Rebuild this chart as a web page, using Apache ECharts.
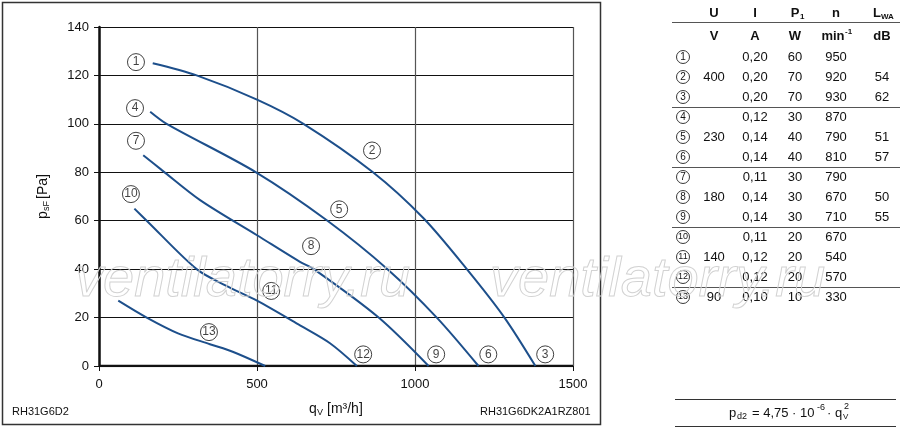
<!DOCTYPE html>
<html>
<head>
<meta charset="utf-8">
<script src="https://cdn.jsdelivr.net/npm/echarts@6/dist/echarts.min.js"></script>
<style>html,body{margin:0;padding:0;background:#fff}#c{width:900px;height:428px}</style>
</head>
<body>
<div id="c"></div>
<script>
// ---- data ----
const curve1to3 = [[170,125],[309,120],[500,110],[647,100],[867,80],[1027,61],[1164,40],[1283,20],[1381,0]];
const curve4to6 = [[162,105],[214,100],[497,80],[723,60],[913,40],[1069,20],[1201,0]];
const curve7to9 = [[140,87],[198,81],[320,68.5],[500,54],[636,43],[680,40],[885,20],[1043,0]];
const curve10to12 = [[112,65],[151,60],[309,40],[400,33.3],[500,27],[636,16.8],[731,9.4],[816,0]];
const curve13 = [[61,27],[151,20],[250,13.5],[351,9],[425,5.8],[526,0]];
const curveLabels = [
  ['1',117,125.5],['2',864,89],['3',1412,4.8],
  ['4',114,106.5],['5',760,64.7],['6',1232,4.8],
  ['7',117,93],['8',671,49.5],['9',1067,4.8],
  ['10',101,71],['11',545,31],['12',836,4.8],['13',348,14]
];
const xTicks = [0,500,1000,1500];
const yTicks = [0,20,40,60,80,100,120,140];

// table
const tableHead1 = ['U','I','P','n','L'];
const tableHead2 = ['V','A','W','min','dB'];
const rowNo = ['1','2','3','4','5','6','7','8','9','10','11','12','13'];
const colU = ['','400','','','230','','','180','','','140','','90'];
const colI = ['0,20','0,20','0,20','0,12','0,14','0,14','0,11','0,14','0,14','0,11','0,12','0,12','0,10'];
const colP = ['60','70','70','30','40','40','30','30','30','20','20','20','10'];
const colN = ['950','920','930','870','790','810','790','670','710','670','540','570','330'];
const colL = ['','54','62','','51','57','','50','55','','','',''];

const chart = echarts.init(document.getElementById('c'), null, {renderer:'canvas'});
const FONT = 'Liberation Sans, Arial, Helvetica, sans-serif';
const lineColor = '#1d4f8b';

const curves = [curve1to3, curve4to6, curve7to9, curve10to12, curve13];
const series = curves.map(d => ({
  type:'line', data:d, smooth:0.3, showSymbol:false, silent:true,
  lineStyle:{color:lineColor, width:2}, z:3
}));
series.push({
  type:'scatter', data: curveLabels.map(l => ({name:l[0], value:[l[1], l[2]]})),
  symbol:'circle', symbolSize:17, silent:true, z:5,
  itemStyle:{color:'#fff', borderColor:'#111', borderWidth:1},
  label:{show:true, position:'inside', formatter:p=>p.name, color:'#111', fontFamily:FONT,
    fontSize:12, letterSpacing:-1}
});

// graphic elements
const g = [];
g.push({type:'rect', shape:{x:2.5,y:2.5,width:598,height:422}, style:{fill:'none', stroke:'#333', lineWidth:1.5}, z:0});
// watermark
[75, 490].forEach(x => g.push({type:'text', x:x, y:280, silent:true, z:10,
  style:{text:'ventilatorry.ru', font:'italic 56px '+FONT, fill:'rgba(255,255,255,0)', stroke:'#d2d2d2', lineWidth:1, textVerticalAlign:'middle'}}));
// y axis name (rotated)
g.push({type:'group', x:43, y:195, rotation:Math.PI/2, children:[
  {type:'text', x:-24, y:0, style:{text:'p', font:'14px '+FONT, fill:'#111', textVerticalAlign:'middle'}},
  {type:'text', x:-16, y:4, style:{text:'sF', font:'9px '+FONT, fill:'#111', textVerticalAlign:'middle'}},
  {type:'text', x:-4, y:0, style:{text:'[Pa]', font:'14px '+FONT, fill:'#111', textVerticalAlign:'middle'}}
]});
// x axis name
g.push({type:'text', x:309, y:409, style:{text:'q', font:'14px '+FONT, fill:'#111', textVerticalAlign:'middle'}});
g.push({type:'text', x:317, y:413, style:{text:'V', font:'9px '+FONT, fill:'#111', textVerticalAlign:'middle'}});
g.push({type:'text', x:327, y:409, style:{text:'[m³/h]', font:'14px '+FONT, fill:'#111', textVerticalAlign:'middle'}});
g.push({type:'text', x:12, y:412, style:{text:'RH31G6D2', font:'11px '+FONT, fill:'#111', textVerticalAlign:'middle'}});
g.push({type:'text', x:480, y:412, style:{text:'RH31G6DK2A1RZ801', font:'11px '+FONT, fill:'#111', textVerticalAlign:'middle'}});

// table
const colX = [683, 714, 755, 795, 836, 882];
const hy1 = 13, hy2 = 36, ry0 = 57, rdy = 20;
tableHead1.forEach((t,i) => {
  g.push({type:'text', x:colX[i+1] - (i===4?5:0), y:hy1, style:{text:t, font:'bold 13px '+FONT, fill:'#111', textAlign:'center', textVerticalAlign:'middle'}});
});
g.push({type:'text', x:colX[3]+5, y:hy1+4, style:{text:'1', font:'bold 8px '+FONT, fill:'#111', textAlign:'left', textVerticalAlign:'middle'}});
g.push({type:'text', x:colX[5]-1, y:hy1+4, style:{text:'WA', font:'bold 8px '+FONT, fill:'#111', textAlign:'left', textVerticalAlign:'middle'}});
tableHead2.forEach((t,i) => {
  g.push({type:'text', x:colX[i+1] - (i===3?3:0), y:hy2, style:{text:t, font:'bold 13px '+FONT, fill:'#111', textAlign:'center', textVerticalAlign:'middle'}});
});
g.push({type:'text', x:colX[4]+9, y:hy2-4, style:{text:'-1', font:'bold 8px '+FONT, fill:'#111', textAlign:'left', textVerticalAlign:'middle'}});
g.push({type:'line', shape:{x1:672,y1:22.5,x2:900,y2:22.5}, style:{stroke:'#555', lineWidth:1.2}});
[107,167,227,287].forEach(y => g.push({type:'line', shape:{x1:672,y1:y+0.5,x2:900,y2:y+0.5}, style:{stroke:'#555', lineWidth:1.2}}));
const cols = [colU, colI, colP, colN, colL];
rowNo.forEach((r,i) => {
  const y = ry0 + i*rdy;
  g.push({type:'circle', shape:{cx:colX[0], cy:y, r:6.5}, style:{fill:'#fff', stroke:'#222', lineWidth:0.9}});
  g.push({type:'text', x:colX[0], y:y, style:{text:r, font:(r.length>1?'9px ':'10px ')+FONT, fill:'#111', textAlign:'center', textVerticalAlign:'middle'}});
  cols.forEach((c,j) => {
    if (c[i]) g.push({type:'text', x:colX[j+1], y:y, style:{text:c[i], font:'13px '+FONT, fill:'#111', textAlign:'center', textVerticalAlign:'middle'}});
  });
});
// formula
g.push({type:'line', shape:{x1:675,y1:399.5,x2:896,y2:399.5}, style:{stroke:'#333', lineWidth:1}});
g.push({type:'line', shape:{x1:675,y1:426.5,x2:896,y2:426.5}, style:{stroke:'#333', lineWidth:1}});
const fy = 413;
g.push({type:'text', x:729, y:fy, style:{text:'p', font:'13px '+FONT, fill:'#111', textVerticalAlign:'middle'}});
g.push({type:'text', x:737, y:fy+4, style:{text:'d2', font:'9px '+FONT, fill:'#111', textVerticalAlign:'middle'}});
g.push({type:'text', x:752, y:fy, style:{text:'= 4,75 · 10', font:'13px '+FONT, fill:'#111', textVerticalAlign:'middle'}});
g.push({type:'text', x:817, y:fy-5, style:{text:'-6', font:'9px '+FONT, fill:'#111', textVerticalAlign:'middle'}});
g.push({type:'text', x:827, y:fy, style:{text:'· q', font:'13px '+FONT, fill:'#111', textVerticalAlign:'middle'}});
g.push({type:'text', x:843, y:fy+4, style:{text:'V', font:'8px '+FONT, fill:'#111', textVerticalAlign:'middle'}});
g.push({type:'text', x:844, y:fy-6, style:{text:'2', font:'9px '+FONT, fill:'#111', textVerticalAlign:'middle'}});

chart.setOption({
  animation:false,
  backgroundColor:'#fff',
  grid:{left:99, right:327, top:27, bottom:62, containLabel:false},
  xAxis:{type:'value', min:xTicks[0], max:xTicks[xTicks.length-1], interval:500,
    axisLine:{show:false},
    axisTick:{show:true, length:5, lineStyle:{color:'#111', width:1}},
    axisLabel:{color:'#111', fontFamily:FONT, fontSize:13, margin:12, formatter: v => String(v)},
    splitLine:{show:true, lineStyle:{color:'#555', width:1.2}}},
  yAxis:{type:'value', min:yTicks[0], max:yTicks[yTicks.length-1], interval:20,
    axisLine:{show:true, onZero:false, lineStyle:{color:'#111', width:2.5}},
    axisTick:{show:true, length:5, lineStyle:{color:'#111', width:1}},
    axisLabel:{color:'#111', fontFamily:FONT, fontSize:13, margin:10, formatter: v => String(v)},
    splitLine:{show:true, lineStyle:{color:'#111', width:1.2}}},
  series: series.concat([{
    type:'line', data:[[0,0],[1500,0]], showSymbol:false, silent:true,
    lineStyle:{color:'#111', width:2.5}, z:2
  }]),
  graphic: g
});
</script>
</body>
</html>
